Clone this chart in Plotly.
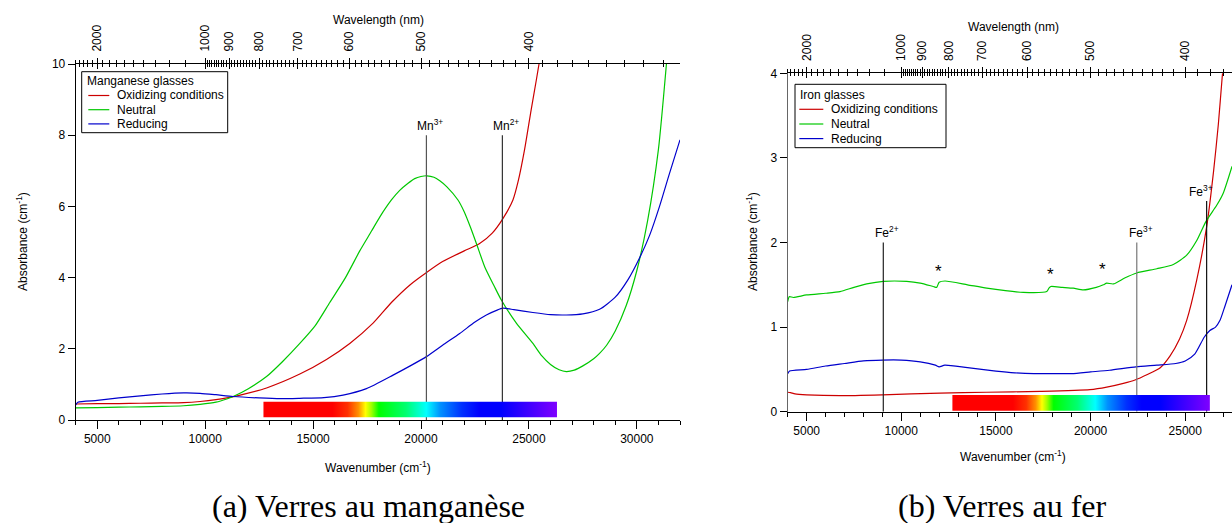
import plotly.graph_objects as go

W, H = 1232, 523

# ---------------- data: manganese glasses (left) ----------------
mn_red_wn = [4000, 5000, 6000, 7000, 8000, 9000, 9764, 10500, 11000, 11759, 12843, 14384,
             15620, 16699, 17778, 18629, 19500, 20273, 21000, 22000, 22700, 23300, 23787,
             24259, 24500, 24800, 25100, 25343, 25550]
mn_red_abs = [0.45, 0.46, 0.46, 0.47, 0.48, 0.49, 0.52, 0.57, 0.62, 0.72, 0.90, 1.29,
              1.70, 2.15, 2.72, 3.30, 3.80, 4.15, 4.45, 4.75, 4.95, 5.25, 5.65,
              6.18, 6.70, 7.60, 8.70, 9.55, 10.3]

mn_green_wn = [4000, 5000, 6000, 7000, 8000, 9000, 9764, 10500, 11000, 11296, 12000, 12843,
               13600, 14384, 15100, 15773, 16500, 17162, 17700, 18088, 18629, 19014, 19400,
               19708, 20000, 20273, 20600, 20870, 21200, 21713, 22000, 22300, 22600, 22954,
               23400, 23722, 24417, 25185, 25600, 26000, 26400, 26731, 27100, 27500, 28000,
               28273, 28600, 29000, 29500, 30000, 30500, 31000, 31400]
mn_green_abs = [0.34, 0.35, 0.36, 0.37, 0.38, 0.40, 0.44, 0.50, 0.59, 0.66, 0.88, 1.22,
                1.65, 2.15, 2.65, 3.30, 4.00, 4.75, 5.30, 5.70, 6.18, 6.45, 6.65,
                6.78, 6.84, 6.86, 6.82, 6.72, 6.55, 6.18, 5.85, 5.40, 4.90, 4.30,
                3.75, 3.37, 2.72, 2.15, 1.80, 1.56, 1.41, 1.36, 1.40, 1.52, 1.72,
                1.87, 2.10, 2.50, 3.20, 4.20, 5.60, 7.60, 10.2]

mn_blue_wn = [4000, 4100, 5000, 6000, 7000, 8000, 9000, 9764, 10500, 11296, 12500, 13500,
              14384, 15500, 16389, 17472, 18705, 19500, 20250, 21000, 21792, 22500, 23028,
              23500, 23796, 24300, 25185, 26000, 26731, 27500, 28273, 29000, 29600, 30125,
              30600, 31051, 31500, 32000]
mn_blue_abs = [0.42, 0.50, 0.55, 0.62, 0.68, 0.73, 0.76, 0.75, 0.71, 0.66, 0.62, 0.60,
               0.61, 0.63, 0.70, 0.88, 1.26, 1.52, 1.78, 2.10, 2.43, 2.75, 2.95,
               3.08, 3.14, 3.10, 3.02, 2.96, 2.95, 2.98, 3.11, 3.45, 3.95, 4.55,
               5.20, 6.00, 6.90, 7.87]

mn_ion_labels = ["Mn<sup>3+</sup>", "Mn<sup>2+</sup>"]
mn_ion_wn = [20250, 23770]
mn_ion_top = [8.0, 8.0]
mn_ion_colors = ["#555555", "#333333"]

# ---------------- data: iron glasses (right) ----------------
fe_red_wn = [4000, 4150, 4386, 5000, 6763, 9000, 12045, 14500, 17328, 19969, 20852, 21732,
             22347, 23000, 23680, 24200, 24700, 25077, 25600, 26134, 26500, 26750, 26950, 27100]
fe_red_abs = [0.23, 0.225, 0.21, 0.20, 0.19, 0.20, 0.22, 0.23, 0.24, 0.26, 0.29, 0.335,
              0.375, 0.44, 0.52, 0.66, 0.86, 1.08, 1.55, 2.19, 2.85, 3.40, 3.95, 4.30]

fe_green_wn = [4000, 4080, 4300, 5000, 6000, 6761, 7500, 8173, 9050, 10286, 11000, 11692,
               11871, 12000, 12310, 13500, 14512, 15500, 16446, 17682, 17800, 17900, 18500,
               19088, 19616, 20300, 20673, 20850, 21202, 21800, 22436, 23500, 24370, 25077,
               25600, 26097, 26662, 27000, 27470]
fe_green_abs = [1.30, 1.36, 1.35, 1.38, 1.40, 1.42, 1.47, 1.51, 1.54, 1.54, 1.52, 1.48,
                1.47, 1.53, 1.545, 1.50, 1.46, 1.43, 1.41, 1.42, 1.46, 1.48, 1.47,
                1.46, 1.44, 1.47, 1.50, 1.52, 1.51, 1.58, 1.64, 1.69, 1.74, 1.85,
                2.02, 2.25, 2.44, 2.58, 2.90]

fe_blue_wn = [4000, 4100, 5000, 6000, 7000, 8000, 9000, 10000, 11000, 11800, 12000, 12300,
              13500, 15000, 16000, 17000, 18000, 19000, 20000, 21000, 22400, 23500, 24500,
              25000, 25500, 26000, 26300, 26600, 26837, 27100, 27470]
fe_blue_abs = [0.45, 0.48, 0.50, 0.54, 0.57, 0.60, 0.61, 0.61, 0.59, 0.55, 0.53, 0.55,
               0.52, 0.48, 0.46, 0.45, 0.45, 0.45, 0.47, 0.49, 0.53, 0.55, 0.57,
               0.60, 0.68, 0.88, 0.96, 1.00, 1.08, 1.25, 1.50]

fe_ion_labels = ["Fe<sup>2+</sup>", "Fe<sup>3+</sup>", "Fe<sup>3+</sup>"]
fe_ion_wn = [9050, 22440, 26130]
fe_ion_top = [2.0, 2.0, 2.49]
fe_ion_colors = ["#222222", "#777777", "#111111"]
fe_ion_xshift = [4, 4, -6]

fe_star_wn = [11950, 17900, 20620]
fe_star_abs = [1.71, 1.67, 1.73]

series_names = ["Oxidizing conditions", "Neutral", "Reducing"]
series_colors = ["#cc0000", "#00c800", "#0000cc"]
legend_titles = ["Manganese glasses", "Iron glasses"]

# visible spectrum band
band_wn = [12700, 26300]
mn_band_abs = [0.08, 0.51]
fe_band_abs = [0.012, 0.197]
band_stop_wn = [12700, 15900, 16600, 17100, 17430, 17700, 18050, 19300, 20250, 20900,
                21900, 22700, 23700, 26300]
band_stop_col = ["#ff0000", "#ff0000", "#ff3000", "#ff9000", "#ffff00", "#a0ff00", "#00ff00",
                 "#00ff70", "#00ffff", "#0090ff", "#0030ff", "#0000ff", "#0000ff", "#7f00ff"]

# axes ticks
wl_major = [2000, 1000, 900, 800, 700, 600, 500, 400]
wl_minor = ([2500, 2400, 2300, 2200, 2100] + list(range(1900, 1000, -100))
            + [v for v in range(990, 300, -10) if v not in wl_major])
wn_major = [5000, 10000, 15000, 20000, 25000, 30000]

mn_xrange = [4000, 32000]
mn_yrange = [0, 10]
fe_xrange = [4000, 27470]
fe_yrange = [0, 4]

FONT = "Liberation Sans, Arial, sans-serif"

fig = go.Figure()


def add_panel(xa, ya, wns, abss, ion_wn, ion_top, ion_colors, band_abs):
    for name, col, x, y in zip(series_names, series_colors, wns, abss):
        fig.add_trace(go.Scatter(x=x, y=y, mode="lines", name=name, showlegend=False,
                                 line=dict(color=col, width=1.2, shape="spline", smoothing=0.6),
                                 xaxis=xa, yaxis=ya))
    for w, t, c in zip(ion_wn, ion_top, ion_colors):
        fig.add_trace(go.Scatter(x=[w, w], y=[0, t], mode="lines", showlegend=False,
                                 line=dict(color=c, width=1.2), xaxis=xa, yaxis=ya,
                                 hoverinfo="skip"))
    span = band_wn[1] - band_wn[0]
    cs = [[(w - band_wn[0]) / span, c] for w, c in zip(band_stop_wn, band_stop_col)]
    fig.add_trace(go.Scatter(
        x=[band_wn[0], band_wn[1], band_wn[1], band_wn[0], band_wn[0]],
        y=[band_abs[0], band_abs[0], band_abs[1], band_abs[1], band_abs[0]],
        mode="lines", line=dict(width=0), fill="toself",
        fillgradient=dict(type="horizontal", colorscale=cs, start=band_wn[0], stop=band_wn[1]),
        showlegend=False, hoverinfo="skip", xaxis=xa, yaxis=ya))


add_panel("x", "y", [mn_red_wn, mn_green_wn, mn_blue_wn],
          [mn_red_abs, mn_green_abs, mn_blue_abs], mn_ion_wn, mn_ion_top, mn_ion_colors,
          mn_band_abs)
add_panel("x4", "y2", [fe_red_wn, fe_green_wn, fe_blue_wn],
          [fe_red_abs, fe_green_abs, fe_blue_abs], fe_ion_wn, fe_ion_top, fe_ion_colors,
          fe_band_abs)

tickfont = dict(family=FONT, size=12, color="black")


def bottom_axis(rng, domain, anchor):
    return dict(range=rng, domain=domain, anchor=anchor, showline=True, linecolor="black",
                linewidth=1, ticks="outside", ticklen=8, tickcolor="black", tickvals=wn_major,
                tickformat="d", tickfont=tickfont, showgrid=False, zeroline=False,
                automargin=False,
                minor=dict(tickmode="linear", tick0=0, dtick=1000, ticks="outside", ticklen=4,
                           tickcolor="black"))


def top_axis(rng, over, anchor, inside):
    d = dict(range=rng, overlaying=over, anchor=anchor, side="top", showgrid=False,
             zeroline=False, tickvals=[1e7 / v for v in wl_major], automargin=False,
             tickcolor="black", ticklen=5,
             minor=dict(tickvals=[1e7 / v for v in wl_minor], ticklen=3, tickcolor="black",
                        ticks="inside" if inside else "outside"))
    if inside:
        d.update(ticks="inside", showticklabels=False, showline=False)
    else:
        d.update(ticks="outside", showline=True, linecolor="black", linewidth=1,
                 ticktext=[str(v) for v in wl_major], tickangle=-90, tickfont=tickfont,
                 ticklabelstandoff=4)
    return d


def y_axis(rng, domain, anchor, dtick, linecolor):
    return dict(range=rng, domain=domain, anchor=anchor, showline=True, linecolor=linecolor,
                linewidth=1, ticks="outside", ticklen=7, tickcolor="black", dtick=dtick,
                tickfont=tickfont, showgrid=False, zeroline=False, automargin=False)


mn_xdom = [75.7 / W, 680 / W]
mn_ydom = [1 - 420 / H, 1 - 64 / H]
fe_xdom = [787.7 / W, 1.0]
fe_ydom = [1 - 411.7 / H, 1 - 73.3 / H]

fig.update_layout(
    width=W, height=H, margin=dict(l=0, r=0, t=0, b=0, autoexpand=False),
    paper_bgcolor="white", plot_bgcolor="white",
    font=dict(family=FONT, size=12, color="black"),
    xaxis=bottom_axis(mn_xrange, mn_xdom, "y"),
    xaxis2=top_axis(mn_xrange, "x", "y", False),
    xaxis3=top_axis(mn_xrange, "x", "y", True),
    yaxis=y_axis(mn_yrange, mn_ydom, "x", 2, "black"),
    xaxis4=bottom_axis(fe_xrange, fe_xdom, "y2"),
    xaxis5=top_axis(fe_xrange, "x4", "y2", False),
    xaxis6=top_axis(fe_xrange, "x4", "y2", True),
    yaxis2=y_axis(fe_yrange, fe_ydom, "x4", 1, "#666666"),
    showlegend=False,
)

# the top axes need a trace to be drawn
for xa, ya in [("x2", "y"), ("x3", "y"), ("x5", "y2"), ("x6", "y2")]:
    fig.add_trace(go.Scatter(x=[], y=[], xaxis=xa, yaxis=ya, showlegend=False))

ann = []
shapes = []
for lab, w, t in zip(mn_ion_labels, mn_ion_wn, mn_ion_top):
    ann.append(dict(x=w, y=t, xref="x", yref="y", text=lab, showarrow=False,
                    yanchor="bottom", xshift=4, font=dict(family=FONT, size=12)))
for lab, w, t, s in zip(fe_ion_labels, fe_ion_wn, fe_ion_top, fe_ion_xshift):
    ann.append(dict(x=w, y=t, xref="x4", yref="y2", text=lab, showarrow=False,
                    yanchor="bottom", xshift=s, font=dict(family=FONT, size=12)))
for w, a in zip(fe_star_wn, fe_star_abs):
    ann.append(dict(x=w, y=a, xref="x4", yref="y2", text="*", showarrow=False,
                    yshift=-4, font=dict(family=FONT, size=17)))

# legends (box, title, line samples, labels) in pixel positions
legend_boxes = [
    dict(x0=81.7, x1=227.7, y0=71.7, y1=132.7, title_y=81.5, rows=[95.5, 109.7, 123.9],
         lx0=88.3, lx1=109.3, tx=114.5),
    dict(x0=795.0, x1=946.0, y0=84.3, y1=147.7, title_y=95.0, rows=[109.3, 124.0, 138.6],
         lx0=799.3, lx1=823.3, tx=829.0),
]
for title, lb in zip(legend_titles, legend_boxes):
    shapes.append(dict(type="rect", xref="paper", yref="paper",
                       x0=lb["x0"] / W, x1=lb["x1"] / W, y0=1 - lb["y1"] / H, y1=1 - lb["y0"] / H,
                       line=dict(color="black", width=1), fillcolor="white", layer="above"))
    ann.append(dict(x=(lb["x0"] + 3) / W, y=1 - lb["title_y"] / H, xref="paper", yref="paper",
                    text=title, showarrow=False, xanchor="left", yanchor="middle",
                    font=dict(family=FONT, size=12)))
    for name, col, ry in zip(series_names, series_colors, lb["rows"]):
        shapes.append(dict(type="line", xref="paper", yref="paper",
                           x0=lb["lx0"] / W, x1=lb["lx1"] / W, y0=1 - ry / H, y1=1 - ry / H,
                           line=dict(color=col, width=1.2), layer="above"))
        ann.append(dict(x=lb["tx"] / W, y=1 - ry / H, xref="paper", yref="paper",
                        text=name, showarrow=False, xanchor="left", yanchor="middle",
                        font=dict(family=FONT, size=12)))

titles = [
    ("Wavelength (nm)", 378, 20, 0),
    ("Wavelength (nm)", 1013, 27, 0),
    ("Wavenumber (cm<sup>-1</sup>)", 378, 467, 0),
    ("Wavenumber (cm<sup>-1</sup>)", 1013, 456, 0),
    ("Absorbance (cm<sup>-1</sup>)", 22, 242, -90),
    ("Absorbance (cm<sup>-1</sup>)", 752, 242, -90),
]
for txt, px, py, ang in titles:
    ann.append(dict(x=px / W, y=1 - py / H, xref="paper", yref="paper", text=txt,
                    showarrow=False, textangle=ang, xanchor="center", yanchor="middle",
                    font=dict(family=FONT, size=12)))

captions = [("(a) Verres au manganèse", 368, 506), ("(b) Verres au fer", 1002, 506)]
for txt, px, py in captions:
    ann.append(dict(x=px / W, y=1 - py / H, xref="paper", yref="paper", text=txt,
                    showarrow=False, xanchor="center", yanchor="middle",
                    font=dict(family="Liberation Serif, Times New Roman, serif", size=32,
                              color="black")))

fig.update_layout(annotations=ann, shapes=shapes)

fig.write_html("out.html", config={"displayModeBar": False},
               post_script="document.body.style.margin='0px';"
                           "document.body.style.overflow='hidden';")
